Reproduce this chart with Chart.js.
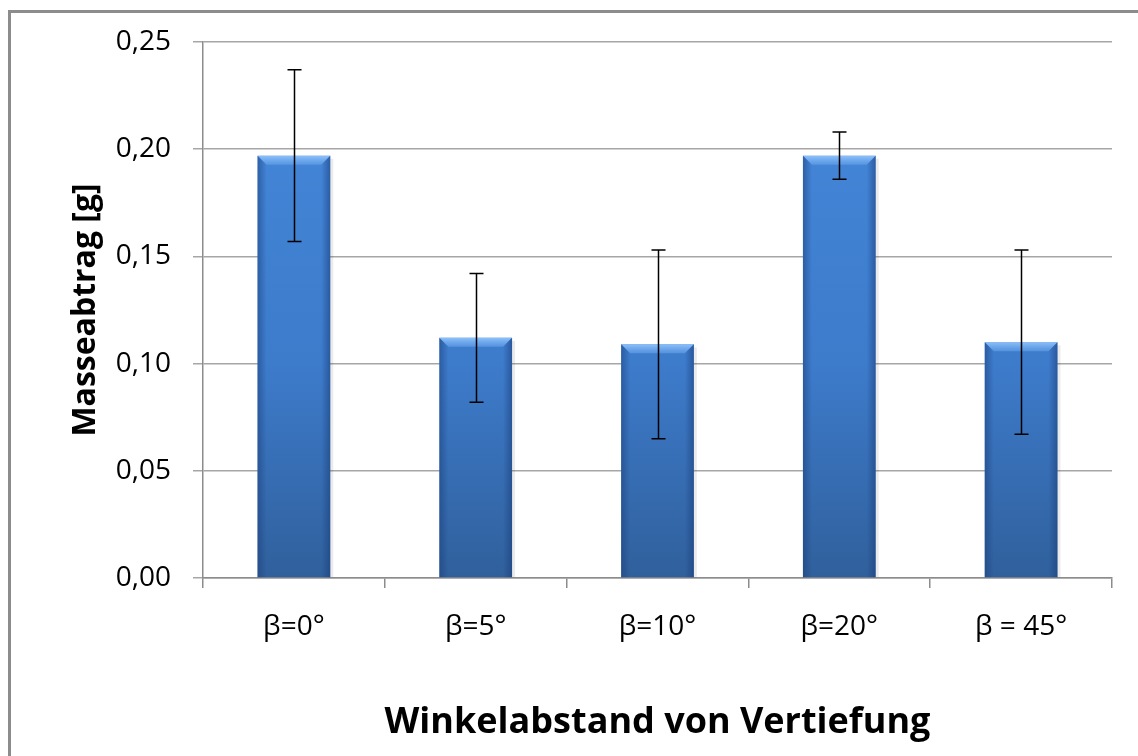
<!DOCTYPE html>
<html>
<head>
<meta charset="utf-8">
<script src="https://cdn.jsdelivr.net/npm/chart.js@4/dist/chart.umd.min.js"></script>
<style>
  html, body { margin: 0; padding: 0; background: #fff; }
  #wrap { position: relative; width: 1138px; height: 756px; overflow: hidden; }
  #frame {
    position: absolute; left: 8px; top: 10px; width: 1200px; height: 800px;
    border-top: 3px solid #8c8c8c; border-left: 3px solid #8c8c8c;
  }
  #chart { position: absolute; left: 0; top: 0; }
</style>
</head>
<body>
<div id="wrap">
  <div id="frame"></div>
  <canvas id="chart" width="1138" height="756"></canvas>
</div>

<script>
  // Masseabtrag je Winkelabstand (Mittelwert und Streuung)
  const categories = ["β=0°", "β=5°", "β=10°", "β=20°", "β = 45°"];
  const masseabtrag = [0.197, 0.112, 0.109, 0.197, 0.110];
  const streuung = [0.040, 0.030, 0.044, 0.011, 0.043];
  const yTicks = [0, 0.05, 0.10, 0.15, 0.20, 0.25];

  const FONT = "'Open Sans', 'Liberation Sans', sans-serif";

  // Balkenfläche: oben hell, unten dunkler
  function barFill(ctx) {
    const chart = ctx.chart;
    const area = chart.chartArea;
    if (!area) return "#3f7fcf";
    const g = chart.ctx.createLinearGradient(0, area.top, 0, area.bottom);
    g.addColorStop(0, "#4689dc");
    g.addColorStop(0.6, "#3d7bcb");
    g.addColorStop(1, "#30609c");
    return g;
  }

  // Abgeschrägte Kanten und leichter Schatten auf den Balken
  const bevelPlugin = {
    id: "bevel",
    afterDatasetsDraw(chart) {
      const c = chart.ctx;
      const meta = chart.getDatasetMeta(0);
      meta.data.forEach((bar) => {
        const l = bar.x - bar.width / 2;
        const r = bar.x + bar.width / 2;
        const t = bar.y;
        const b = bar.base;
        const e = 9;
        c.save();
        // Oberkante hell
        const gt = c.createLinearGradient(0, t, 0, t + e);
        gt.addColorStop(0, "rgba(150, 200, 255, 0.9)");
        gt.addColorStop(1, "rgba(110, 170, 240, 0.5)");
        c.fillStyle = gt;
        c.beginPath();
        c.moveTo(l, t); c.lineTo(r, t); c.lineTo(r - e, t + e); c.lineTo(l + e, t + e);
        c.closePath(); c.fill();
        // linke Kante
        const gl = c.createLinearGradient(l, 0, l + e, 0);
        gl.addColorStop(0, "rgba(25, 60, 120, 0.5)");
        gl.addColorStop(1, "rgba(25, 60, 120, 0)");
        c.fillStyle = gl;
        c.beginPath();
        c.moveTo(l, t); c.lineTo(l + e, t + e); c.lineTo(l + e, b); c.lineTo(l, b);
        c.closePath(); c.fill();
        // rechte Kante
        const gr = c.createLinearGradient(r - e, 0, r, 0);
        gr.addColorStop(0, "rgba(25, 60, 120, 0)");
        gr.addColorStop(1, "rgba(25, 60, 120, 0.55)");
        c.fillStyle = gr;
        c.beginPath();
        c.moveTo(r, t); c.lineTo(r - e, t + e); c.lineTo(r - e, b); c.lineTo(r, b);
        c.closePath(); c.fill();
        // Schatten rechts
        c.fillStyle = "rgba(0, 0, 0, 0.08)";
        c.fillRect(r, t + 3, 3, b - t - 3);
        c.restore();
      });
    }
  };

  // Fehlerbalken aus Mittelwert +/- Streuung
  const errorBarPlugin = {
    id: "errorBars",
    afterDatasetsDraw(chart) {
      const c = chart.ctx;
      const y = chart.scales.y;
      const meta = chart.getDatasetMeta(0);
      c.save();
      c.strokeStyle = "#000";
      c.lineWidth = 1.5;
      meta.data.forEach((bar, i) => {
        const x = Math.round(bar.x) + 0.5;
        const top = y.getPixelForValue(masseabtrag[i] + streuung[i]);
        const bot = y.getPixelForValue(masseabtrag[i] - streuung[i]);
        const cap = 7;
        c.beginPath();
        c.moveTo(x, top); c.lineTo(x, bot);
        c.moveTo(x - cap, top); c.lineTo(x + cap, top);
        c.moveTo(x - cap, bot); c.lineTo(x + cap, bot);
        c.stroke();
      });
      c.restore();
    }
  };

  new Chart(document.getElementById("chart").getContext("2d"), {
    type: "bar",
    data: {
      labels: categories,
      datasets: [{
        label: "Masseabtrag",
        data: masseabtrag,
        backgroundColor: barFill,
        borderWidth: 0,
        barPercentage: 0.4,
        categoryPercentage: 1.0
      }]
    },
    options: {
      responsive: false,
      animation: false,
      devicePixelRatio: 1,
      layout: { padding: { top: 42, right: 26, left: 0, bottom: 0 } },
      plugins: {
        legend: { display: false },
        tooltip: { enabled: false }
      },
      scales: {
        x: {
          grid: {
            display: true,
            drawOnChartArea: false,
            drawTicks: true,
            tickLength: 10,
            color: "#8c8c8c",
            lineWidth: 1.5
          },
          border: { display: true, color: "#8c8c8c", width: 1.5 },
          ticks: {
            color: "#000",
            font: { family: FONT, size: 28 },
            padding: 22
          },
          title: {
            display: true,
            text: "Winkelabstand von Vertiefung",
            color: "#000",
            font: { family: FONT, size: 36, weight: "bold" },
            padding: { top: 12, bottom: 12 }
          },
          afterFit(scale) { scale.height = 178; }
        },
        y: {
          min: 0,
          max: 0.25,
          afterBuildTicks(scale) {
            scale.ticks = yTicks.map((v) => ({ value: v }));
          },
          grid: {
            color: "#a6a6a6",
            lineWidth: 1.5,
            tickLength: 10,
            drawTicks: true
          },
          border: { display: true, color: "#8c8c8c", width: 1.5 },
          ticks: {
            color: "#000",
            font: { family: FONT, size: 28 },
            padding: 22,
            callback: (v) => v.toFixed(2).replace(".", ",")
          },
          title: {
            display: true,
            text: "Masseabtrag [g]",
            color: "#000",
            font: { family: FONT, size: 32, weight: "bold" },
            padding: { top: 67, bottom: 67 }
          },
          afterFit(scale) { scale.width = 203; }
        }
      }
    },
    plugins: [bevelPlugin, errorBarPlugin]
  });
</script>
</body>
</html>
